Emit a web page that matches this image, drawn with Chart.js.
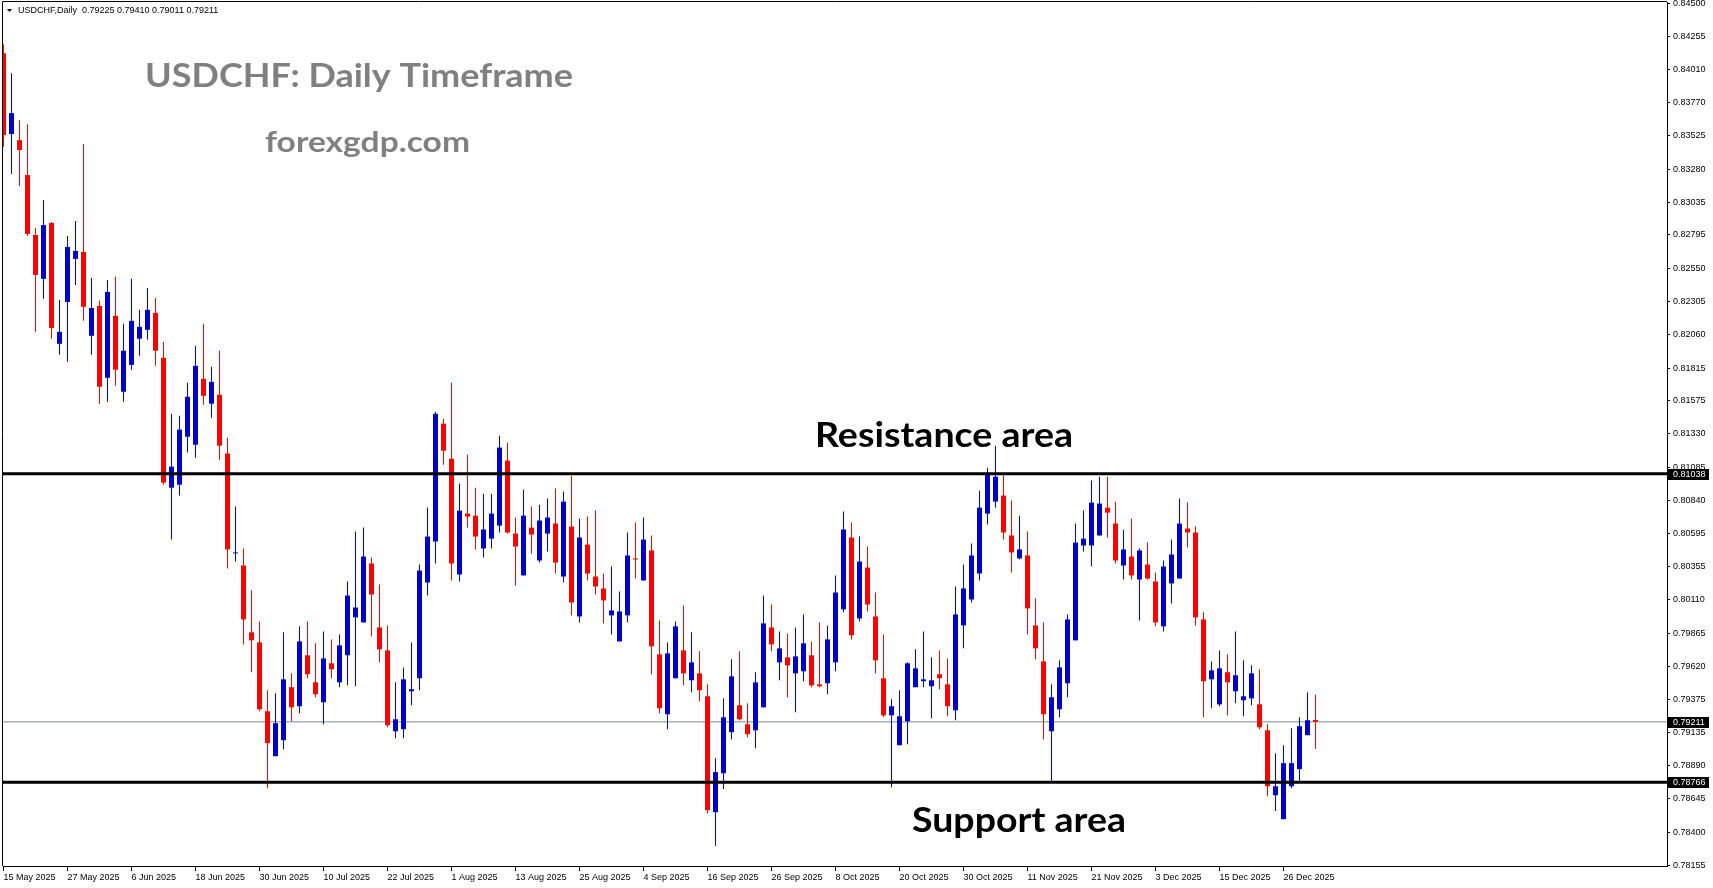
<!DOCTYPE html>
<html>
<head>
<meta charset="utf-8">
<title>USDCHF Daily</title>
<script src="https://cdn.jsdelivr.net/npm/chart.js@4.4.1/dist/chart.umd.min.js"></script>
<style>
  html, body { margin: 0; padding: 0; background: #fff; }
  #wrap { width: 1713px; height: 888px; position: relative; }
</style>
</head>
<body>
<div id="wrap"><canvas id="usdchfChart"></canvas></div>
<script>
// date labels, one every 8 bars
const tickLabels = ['15 May 2025', '27 May 2025', '6 Jun 2025', '18 Jun 2025', '30 Jun 2025', '10 Jul 2025',
    '22 Jul 2025', '1 Aug 2025', '13 Aug 2025', '25 Aug 2025', '4 Sep 2025', '16 Sep 2025', '26 Sep 2025',
    '8 Oct 2025', '20 Oct 2025', '30 Oct 2025', '11 Nov 2025', '21 Nov 2025', '3 Dec 2025', '15 Dec 2025',
    '26 Dec 2025'];
const LABEL_STEP = 8;

const yTicks = [0.84500, 0.84255, 0.84010, 0.83770, 0.83525, 0.83280, 0.83035, 0.82795, 0.82550, 0.82305,
    0.82060, 0.81815, 0.81575, 0.81330, 0.81085, 0.80840, 0.80595, 0.80355, 0.80110, 0.79865, 0.79620,
    0.79375, 0.79135, 0.78890, 0.78645, 0.78400, 0.78155];

const opens = [
    0.84133, 0.83538, 0.83493, 0.83236, 0.82795, 0.82472, 0.82883, 0.81994, 0.82302, 0.82619,
    0.82670, 0.82053, 0.82273, 0.81744, 0.82200, 0.81641, 0.81839, 0.82031, 0.82097, 0.82222,
    0.81891, 0.80935, 0.80957, 0.81310, 0.81251, 0.81736, 0.81553, 0.81619, 0.81186, 0.80451,
    0.80362, 0.79870, 0.79796, 0.79289, 0.78958, 0.79076, 0.79466, 0.79326, 0.79701, 0.79502,
    0.79355, 0.79642, 0.79502, 0.79701, 0.79980, 0.79943, 0.80377, 0.79906, 0.79737, 0.79142,
    0.79157, 0.79436, 0.79532, 0.80237, 0.80538, 0.81406, 0.81148, 0.80296, 0.80744, 0.80729,
    0.80487, 0.80560, 0.80656, 0.81134, 0.80597, 0.80289, 0.80641, 0.80399, 0.80597, 0.80671,
    0.80281, 0.80649, 0.79987, 0.80516, 0.80281, 0.80193, 0.79995, 0.79803, 0.79995, 0.80414,
    0.80252, 0.80473, 0.79708, 0.79267, 0.79532, 0.79737, 0.79517, 0.79568, 0.79399, 0.78546,
    0.78833, 0.79135, 0.79333, 0.79193, 0.79149, 0.79318, 0.79906, 0.79649, 0.79686, 0.79568,
    0.79583, 0.79701, 0.79487, 0.79495, 0.79649, 0.80039, 0.80568, 0.79972, 0.80347, 0.79987,
    0.79532, 0.79259, 0.79039, 0.79215, 0.79466, 0.79510, 0.79473, 0.79561, 0.79487, 0.79296,
    0.79921, 0.80112, 0.80303, 0.80744, 0.80832, 0.80877, 0.80583, 0.80414, 0.80436, 0.79921,
    0.79656, 0.79142, 0.79304, 0.79495, 0.79811, 0.80509, 0.80509, 0.80583, 0.80788, 0.80671,
    0.80362, 0.80428, 0.80259, 0.80369, 0.80244, 0.79914, 0.80230, 0.80266, 0.80634, 0.80605,
    0.79965, 0.79524, 0.79340, 0.79576, 0.79436, 0.79370, 0.79384, 0.79340, 0.79149, 0.78671,
    0.78495, 0.78737, 0.78863, 0.79113, 0.79225];

const highs = [
    0.84199, 0.83986, 0.83640, 0.83611, 0.82846, 0.83052, 0.82890, 0.82317, 0.82788, 0.82898,
    0.83464, 0.82479, 0.82310, 0.82464, 0.82487, 0.82141, 0.82472, 0.82244, 0.82405, 0.82332,
    0.82008, 0.81479, 0.81465, 0.81707, 0.81979, 0.82141, 0.81825, 0.81943, 0.81303, 0.80796,
    0.80487, 0.80178, 0.79950, 0.79444, 0.79421, 0.79870, 0.79568, 0.79914, 0.79950, 0.79789,
    0.79877, 0.79818, 0.79855, 0.80244, 0.80612, 0.80641, 0.80421, 0.80222, 0.79921, 0.79502,
    0.79612, 0.79796, 0.80369, 0.80789, 0.81494, 0.81443, 0.81707, 0.80965, 0.81178, 0.80935,
    0.80891, 0.80891, 0.81318, 0.81266, 0.80715, 0.80921, 0.80796, 0.80810, 0.80855, 0.80928,
    0.80906, 0.81023, 0.80707, 0.80722, 0.80766, 0.80303, 0.80355, 0.80171, 0.80605, 0.80678,
    0.80715, 0.80583, 0.79958, 0.79796, 0.79950, 0.80068, 0.79870, 0.79730, 0.79487, 0.78943,
    0.79384, 0.79671, 0.79730, 0.79348, 0.79576, 0.80141, 0.80075, 0.79877, 0.79862, 0.79906,
    0.80002, 0.79803, 0.79943, 0.79921, 0.80289, 0.80759, 0.80678, 0.80575, 0.80502, 0.80163,
    0.79855, 0.79377, 0.79444, 0.79649, 0.79745, 0.79877, 0.79686, 0.79737, 0.79678, 0.80208,
    0.80369, 0.80524, 0.80913, 0.81082, 0.81244, 0.81031, 0.80840, 0.80729, 0.80612, 0.80119,
    0.79943, 0.79487, 0.79664, 0.80002, 0.80671, 0.80766, 0.80987, 0.81016, 0.81016, 0.80832,
    0.80627, 0.80707, 0.80487, 0.80531, 0.80311, 0.80399, 0.80553, 0.80855, 0.80825, 0.80649,
    0.80017, 0.79656, 0.79737, 0.79708, 0.79877, 0.79664, 0.79627, 0.79598, 0.79193, 0.78980,
    0.79039, 0.79164, 0.79245, 0.79429, 0.79410];

const lows = [
    0.83442, 0.83244, 0.83155, 0.82788, 0.82082, 0.82325, 0.82031, 0.81913, 0.81861, 0.82427,
    0.82163, 0.81913, 0.81553, 0.81567, 0.81685, 0.81567, 0.81803, 0.81906, 0.82023, 0.81832,
    0.80957, 0.80553, 0.80877, 0.81193, 0.81156, 0.81545, 0.81450, 0.81141, 0.80340, 0.80391,
    0.79781, 0.79576, 0.79289, 0.78723, 0.78958, 0.79010, 0.79215, 0.79274, 0.79532, 0.79392,
    0.79193, 0.79532, 0.79466, 0.79480, 0.79473, 0.79943, 0.79840, 0.79649, 0.79171, 0.79090,
    0.79090, 0.79333, 0.79444, 0.80141, 0.80377, 0.81104, 0.80252, 0.80244, 0.80641, 0.80480,
    0.80421, 0.80487, 0.80605, 0.80597, 0.80215, 0.80289, 0.80451, 0.80384, 0.80465, 0.80303,
    0.80237, 0.79995, 0.79943, 0.80252, 0.80149, 0.79936, 0.79855, 0.79803, 0.79943, 0.80266,
    0.80252, 0.79561, 0.79274, 0.79157, 0.79532, 0.79480, 0.79429, 0.79362, 0.78539, 0.78297,
    0.78716, 0.79083, 0.79223, 0.79098, 0.79017, 0.79318, 0.79730, 0.79517, 0.79392, 0.79282,
    0.79510, 0.79466, 0.79466, 0.79414, 0.79583, 0.80017, 0.79818, 0.79950, 0.80024, 0.79568,
    0.79245, 0.78730, 0.79039, 0.79046, 0.79466, 0.79466, 0.79237, 0.79451, 0.79252, 0.79223,
    0.79752, 0.80090, 0.80252, 0.80663, 0.80788, 0.80553, 0.80311, 0.80406, 0.79855, 0.79671,
    0.79083, 0.78775, 0.79245, 0.79392, 0.79811, 0.80465, 0.80355, 0.80583, 0.80568, 0.80377,
    0.80259, 0.80259, 0.79958, 0.80259, 0.79914, 0.79877, 0.80083, 0.80266, 0.80495, 0.79921,
    0.79245, 0.79311, 0.79326, 0.79259, 0.79348, 0.79252, 0.79333, 0.79157, 0.78664, 0.78554,
    0.78495, 0.78723, 0.78775, 0.79113, 0.79011];

const closes = [
    0.83530, 0.83692, 0.83420, 0.82803, 0.82501, 0.82868, 0.82111, 0.82082, 0.82707, 0.82678,
    0.82266, 0.82258, 0.81678, 0.82376, 0.81803, 0.81943, 0.82163, 0.82119, 0.82244, 0.81943,
    0.80972, 0.81090, 0.81362, 0.81604, 0.81832, 0.81611, 0.81714, 0.81244, 0.80480, 0.80458,
    0.79965, 0.79811, 0.79304, 0.79054, 0.79201, 0.79524, 0.79318, 0.79803, 0.79561, 0.79414,
    0.79678, 0.79598, 0.79774, 0.80141, 0.80053, 0.80428, 0.80149, 0.79745, 0.79186, 0.79230,
    0.79524, 0.79451, 0.80325, 0.80575, 0.81479, 0.81207, 0.80377, 0.80766, 0.80722, 0.80575,
    0.80627, 0.80744, 0.81230, 0.80605, 0.80502, 0.80729, 0.80590, 0.80693, 0.80715, 0.80384,
    0.80832, 0.80090, 0.80568, 0.80303, 0.80208, 0.80105, 0.80031, 0.80024, 0.80436, 0.80406,
    0.80553, 0.79767, 0.79311, 0.79715, 0.79914, 0.79568, 0.79649, 0.79444, 0.78561, 0.78841,
    0.79245, 0.79546, 0.79230, 0.79120, 0.79502, 0.79936, 0.79781, 0.79752, 0.79627, 0.79693,
    0.79789, 0.79480, 0.79473, 0.79818, 0.80163, 0.80627, 0.79848, 0.80391, 0.80075, 0.79664,
    0.79259, 0.79326, 0.79252, 0.79642, 0.79605, 0.79524, 0.79517, 0.79532, 0.79326, 0.80002,
    0.80193, 0.80436, 0.80788, 0.81031, 0.81016, 0.80605, 0.80458, 0.80480, 0.80046, 0.79752,
    0.79267, 0.79392, 0.79612, 0.79965, 0.80531, 0.80560, 0.80825, 0.80818, 0.80751, 0.80399,
    0.80480, 0.80289, 0.80473, 0.80266, 0.79943, 0.80355, 0.80443, 0.80671, 0.80605, 0.79980,
    0.79510, 0.79590, 0.79605, 0.79502, 0.79554, 0.79399, 0.79568, 0.79171, 0.78737, 0.78737,
    0.78907, 0.78907, 0.79179, 0.79223, 0.79211];

const resistanceLevel = 0.81038;
const supportLevel = 0.78766;
const bidLevel = 0.79211;

const BULL = '#0000cc';
const BEAR = '#ff0000';
const X_MIN = -0.0625, X_MAX = 207.9375;
const Y_MIN = 0.78150, Y_MAX = 0.84510;
const AXIS_FONT = { family: 'Liberation Sans', size: 9 };

const candleColors = opens.map((o, i) => closes[i] >= o ? BULL : BEAR);
const wickData = highs.map((h, i) => ({ x: i, y: [lows[i], h] }));
const bodyData = opens.map((o, i) => ({ x: i, y: [o, closes[i]] }));

function levelLine(v) {
    return [{ x: X_MIN, y: v }, { x: X_MAX, y: v }];
}

// draws text stretched to the given width
function fitText(ctx, text, x, baseline, font, width) {
    ctx.font = font;
    const w = ctx.measureText(text).width;
    ctx.save();
    ctx.translate(x, baseline);
    ctx.scale(width / w, 1);
    ctx.fillText(text, 0, 0);
    ctx.restore();
}

const chartDecor = {
    id: 'chartDecor',
    afterDraw(chart) {
        const { ctx, chartArea: a, scales: { y } } = chart;
        ctx.save();

        // left and top frame
        ctx.strokeStyle = '#000';
        ctx.lineWidth = 1;
        ctx.beginPath();
        ctx.moveTo(a.left - 0.5, a.bottom);
        ctx.lineTo(a.left - 0.5, a.top - 0.5);
        ctx.lineTo(a.right, a.top - 0.5);
        ctx.stroke();

        // symbol header
        ctx.fillStyle = '#000';
        ctx.beginPath();
        ctx.moveTo(7, 9);
        ctx.lineTo(12, 9);
        ctx.lineTo(9.5, 12);
        ctx.closePath();
        ctx.fill();
        ctx.font = '9px "Liberation Sans"';
        ctx.textBaseline = 'middle';
        ctx.textAlign = 'left';
        ctx.fillText('USDCHF,Daily  0.79225 0.79410 0.79011 0.79211', 18, 11);

        // price boxes on the axis
        [resistanceLevel, bidLevel, supportLevel].forEach(v => {
            const py = Math.round(y.getPixelForValue(v));
            ctx.fillStyle = '#000';
            ctx.fillRect(a.right + 1, py - 5, 41, 11);
            ctx.fillStyle = '#fff';
            ctx.fillText(v.toFixed(5), a.right + 6, py + 0.5);
        });

        // captions
        ctx.textBaseline = 'alphabetic';
        ctx.fillStyle = '#808080';
        fitText(ctx, 'USDCHF: Daily Timeframe', 145, 87, 'bold 32.5px Lato', 428);
        fitText(ctx, 'forexgdp.com', 265, 152, 'bold 28.5px Lato', 205);
        ctx.fillStyle = '#000';
        fitText(ctx, 'Resistance area', 815, 447, 'bold 34.5px Lato', 258);
        fitText(ctx, 'Support area', 912, 832, 'bold 34.5px Lato', 214);

        ctx.restore();
    }
};

const ctx = document.getElementById('usdchfChart').getContext('2d');

new Chart(ctx, {
    type: 'bar',
    data: {
        datasets: [
            {
                type: 'line', label: 'Resistance', data: levelLine(resistanceLevel),
                borderColor: '#000', borderWidth: 3, pointRadius: 0, order: 0
            },
            {
                type: 'line', label: 'Support', data: levelLine(supportLevel),
                borderColor: '#000', borderWidth: 3, pointRadius: 0, order: 0
            },
            {
                label: 'Body', data: bodyData, backgroundColor: candleColors,
                barThickness: 5, grouped: false, minBarLength: 1, inflateAmount: 0, borderWidth: 0, order: 1
            },
            {
                label: 'Wick', data: wickData, backgroundColor: candleColors,
                barThickness: 1, grouped: false, inflateAmount: 0, borderWidth: 0, order: 2
            },
            {
                type: 'line', label: 'Bid', data: levelLine(bidLevel),
                borderColor: '#778899', borderWidth: 1, pointRadius: 0, order: 3
            }
        ]
    },
    options: {
        responsive: true,
        maintainAspectRatio: false,
        animation: false,
        events: [],
        layout: { padding: { left: 3, top: 2, right: 0, bottom: 0 } },
        plugins: {
            legend: { display: false },
            tooltip: { enabled: false }
        },
        scales: {
            x: {
                type: 'linear',
                min: X_MIN,
                max: X_MAX,
                offset: false,
                grid: { display: true, drawOnChartArea: false, offset: false, color: '#000', tickLength: 5 },
                border: { display: true, color: '#000', width: 1 },
                ticks: {
                    autoSkip: false,
                    maxRotation: 0,
                    minRotation: 0,
                    align: 'start',
                    padding: 1,
                    color: '#000',
                    font: AXIS_FONT,
                    callback: (value, index) => tickLabels[index]
                },
                afterBuildTicks: scale => {
                    scale.ticks = tickLabels.map((_, k) => ({ value: k * LABEL_STEP }));
                },
                afterFit: scale => {
                    scale.height = 22;
                    scale.paddingLeft = scale.paddingRight = 0;
                }
            },
            y: {
                position: 'right',
                min: Y_MIN,
                max: Y_MAX,
                grid: { display: true, drawOnChartArea: false, color: '#000', tickLength: 3 },
                border: { display: true, color: '#000', width: 1 },
                ticks: {
                    autoSkip: false,
                    padding: 3,
                    color: '#000',
                    font: AXIS_FONT,
                    callback: value => value.toFixed(5)
                },
                afterBuildTicks: scale => {
                    scale.ticks = yTicks.map(v => ({ value: v }));
                },
                afterFit: scale => {
                    scale.width = 46;
                    scale.paddingTop = scale.paddingBottom = 0;
                }
            }
        }
    },
    plugins: [chartDecor]
});
</script>
</body>
</html>
